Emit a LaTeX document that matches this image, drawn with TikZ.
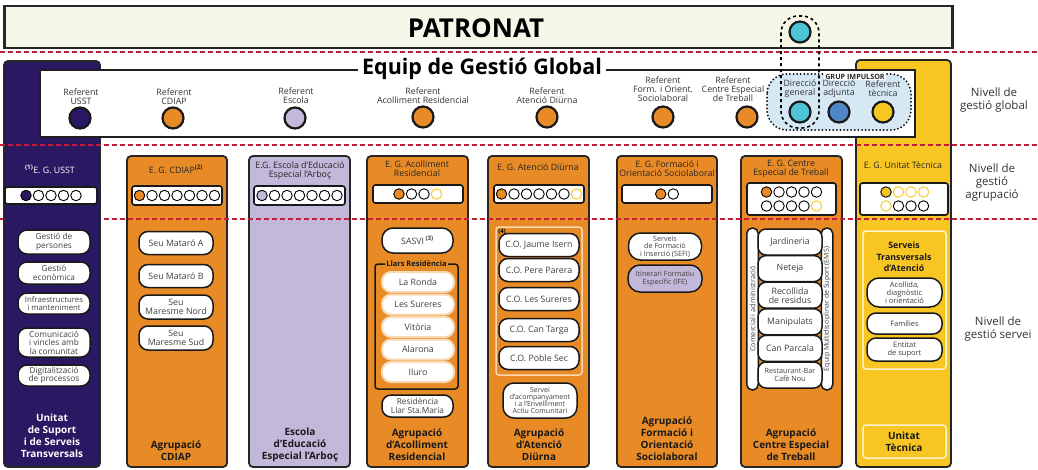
\documentclass[tikz,border=0pt]{standalone}
\usepackage{fontspec}
\setmainfont{Open Sans}
\definecolor{purp}{HTML}{2A1862}
\definecolor{orng}{HTML}{E88A25}
\definecolor{lav}{HTML}{C2B8DA}
\definecolor{ylw}{HTML}{F8C623}
\definecolor{cream}{HTML}{F7F7E9}
\definecolor{cteal}{HTML}{4DC3D6}
\definecolor{cblue}{HTML}{4F86C6}
\definecolor{lblue}{HTML}{D5E8F4}
\definecolor{cred}{HTML}{C41E3A}
\definecolor{pale}{HTML}{FAD9B2}
\definecolor{paley}{HTML}{FFF3CC}
\newcommand\drow[4]{\foreach \fc/\dc [count=\i from 0] in {#4}{\node[dot, fill=\fc, draw=\dc] (#1\i) at ({#2+12.5*\i},#3) {};}}
\begin{document}
\begin{tikzpicture}[x=1pt,y=-1pt,
  lbl/.style={align=center,inner sep=0pt,text=black!80,font=\fontsize{8.8}{9.2}\selectfont},
  refc/.style={circle,draw=black!90,line width=2.2pt,minimum size=21pt,inner sep=0pt},
  colbox/.style={draw=black!85,line width=1.8pt,rounded corners=4pt},
  dbox/.style={draw=black!90,fill=white,line width=1.6pt,rounded corners=2.5pt,inner sep=0pt},
  pill/.style={draw=black!90,fill=white,line width=1.5pt,rounded corners=9pt,align=center,inner sep=0pt,text=black!75,font=\fontsize{8.8}{9}\selectfont},
  dot/.style={circle,line width=0.9pt,minimum size=10.5pt,inner sep=0pt},
  gtitle/.style={align=center,inner sep=0pt,font=\bfseries\fontsize{10}{12}\selectfont,text=black!90},
  etitle/.style={align=center,inner sep=0pt,font=\fontsize{8.8}{8.8}\selectfont,text=black!85},
  redl/.style={draw=cred,line width=1.5pt,dash pattern=on 5pt off 3pt},
  lpill/.style={pill,draw=pale,line width=2pt,minimum width=72pt,minimum height=20pt},
  upill/.style={pill,font=\fontsize{8.3}{8.6}\selectfont,minimum width=72pt},
  nivell/.style={align=center,inner sep=0pt,text=black!80,font=\fontsize{11.5}{13}\selectfont},
]
\useasboundingbox (0,0) rectangle (1038,469);

% PATRONAT
\node[draw=black!85,line width=2.2pt,fill=cream,minimum width=948pt,minimum height=42pt,inner sep=0pt] (patronat) at (478.5,27) {};
\node[font=\bfseries\fontsize{26}{28}\selectfont,inner sep=0pt] (patT) at (476,28) {PATRONAT};
\node[refc,fill=cteal] (pdg) at (800,32) {};

% column fills
\draw[colbox,fill=orng] (127,156) rectangle (227,467);
\draw[colbox,fill=lav] (249,156) rectangle (350,467);
\draw[colbox,fill=orng] (367,156) rectangle (468,467);
\draw[colbox,fill=orng] (488,156) rectangle (589,467);
\draw[colbox,fill=orng] (617,156) rectangle (717,467);
\draw[colbox,fill=orng] (741,156) rectangle (842,467);
\draw[colbox,fill=ylw] (856,60) rectangle (951,467);

% red dashed level lines
\draw[redl] (0,52) -- (1038,52);
\draw[redl] (0,219) -- (1038,219);

% purple column
\draw[colbox,fill=purp] (4,61) rectangle (100,467);
\draw[redl] (0,145) -- (1038,145);
\node[etitle,text=white] (usstT) at (50,169) {\textsuperscript{\bfseries(1)}E. G. USST};
\node[dbox,minimum width=92pt,minimum height=17pt] (usstB) at (51,195.5) {};
\drow{usst}{26}{195.5}{purp/black,white/black,white/black,white/black,white/black}
\node[upill,minimum height=24pt] (gp) at (54,242) {Gestió de\\persones};
\node[upill,minimum height=22pt] (ge) at (54,273) {Gestió\\econòmica};
\node[upill,font=\fontsize{7.8}{8.2}\selectfont,minimum height=21pt] (im) at (54,303.5) {Infraestructures\\i manteniment};
\node[upill,minimum height=29pt] (cv) at (54,342.5) {Comunicació\\i vincles amb\\la comunitat};
\node[upill,minimum height=21pt] (dp) at (54,375.5) {Digitalització\\de processos};
\node[gtitle,text=white] (usstG) at (52,436) {Unitat\\de Suport\\i de Serveis\\Transversals};

% CDIAP
\node[etitle] (cdT) at (176,169) {E. G. CDIAP\textsuperscript{\bfseries(2)}};
\node[dbox,minimum width=90pt,minimum height=19pt] (cdB) at (177,195.5) {};
\drow{cd}{139.5}{195.5}{orng/black,white/black,white/black,white/black,white/black,white/black,white/black}
\node[pill,minimum width=74pt,minimum height=23pt] (sa) at (176,243) {Seu Mataró A};
\node[pill,minimum width=74pt,minimum height=23pt] (sb) at (176,276) {Seu Mataró B};
\node[pill,minimum width=74pt,minimum height=24pt] (sn) at (176,307) {Seu\\Maresme Nord};
\node[pill,minimum width=74pt,minimum height=24pt] (ss) at (176,338) {Seu\\Maresme Sud};
\node[gtitle] (cdG) at (176,451) {Agrupació\\CDIAP};

% Escola
\node[etitle] (esT) at (300,170.5) {E.G. Escola d’Educació\\Especial l’Arboç};
\node[dbox,minimum width=91pt,minimum height=19pt] (esB) at (299.5,195.5) {};
\drow{es}{262}{195.5}{lav/black,white/black,white/black,white/black,white/black,white/black,white/black}
\node[gtitle] (esG) at (300,445) {Escola\\d’Educació\\Especial l’Arboç};

% Acolliment
\node[etitle] (acT) at (417,169) {E. G. Acolliment\\Residencial};
\node[dbox,minimum width=90pt,minimum height=18pt] (acB) at (418,194) {};
\drow{ac}{399}{194}{orng/black,white/black,white/black,white/ylw}
\node[pill,minimum width=71pt,minimum height=25pt,rounded corners=11pt] (sasvi) at (417.5,240.5) {SASVI\,\textsuperscript{\bfseries(3)}};
\draw[draw=black!90,line width=1.5pt,rounded corners=3pt] (375,264) rectangle (458,389);
\node[fill=orng,inner sep=1.5pt,font=\bfseries\fontsize{7.5}{8}\selectfont,text=black!90] (llT) at (416.5,264) {Llars Residència};
\node[lpill] (ll1) at (418,282) {La Ronda};
\node[lpill] (ll2) at (418,304.5) {Les Sureres};
\node[lpill] (ll3) at (418,327) {Vitòria};
\node[lpill] (ll4) at (418,349.5) {Alarona};
\node[lpill] (ll5) at (418,372) {Iluro};
\node[pill,minimum width=71pt,minimum height=22pt,font=\fontsize{8.3}{8.6}\selectfont] (rsm) at (417.5,406) {Residència\\Llar Sta.Maria};
\node[gtitle] (acG) at (417,445) {Agrupació\\d’Acolliment\\Residencial};

% Atencio Diurna
\node[etitle] (adT) at (538,167) {E. G. Atenció Diürna};
\node[dbox,minimum width=90pt,minimum height=18pt] (adB) at (539,194) {};
\drow{ad}{501.5}{194}{orng/black,white/black,white/black,white/black,white/black,white/black,white/ylw}
\draw[draw=pale,line width=1.5pt,rounded corners=3pt] (496,227) rectangle (582,375);
\node[inner sep=0pt,font=\bfseries\fontsize{6}{6}\selectfont] (n4) at (502,231.5) {(4)};
\node[pill,minimum width=80pt,minimum height=23pt] (co1) at (539,245) {C.O. Jaume Isern};
\node[pill,minimum width=80pt,minimum height=23pt] (co2) at (539,270) {C.O. Pere Parera};
\node[pill,minimum width=80pt,minimum height=23pt] (co3) at (539,299) {C.O. Les Sureres};
\node[pill,minimum width=80pt,minimum height=23pt] (co4) at (539,330) {C.O. Can Targa};
\node[pill,minimum width=80pt,minimum height=23pt] (co5) at (539,358) {C.O. Poble Sec};
\node[pill,minimum width=74pt,minimum height=35pt,rounded corners=11pt,font=\fontsize{7}{7.3}\selectfont] (sav) at (540,400.5) {Servei\\d’acompanyament\\i a l’Envelliment\\Actiu Comunitari};
\node[gtitle] (adG) at (539,445) {Agrupació\\d’Atenció\\Diürna};

% Formacio
\node[etitle] (foT) at (667,168.5) {E. G. Formació i\\Orientació Sociolaboral};
\node[dbox,minimum width=90pt,minimum height=18pt] (foB) at (667,194) {};
\drow{fo}{660.75}{194}{orng/black,white/black}
\node[pill,minimum width=73pt,minimum height=27pt,rounded corners=12pt,font=\fontsize{7.2}{7.5}\selectfont] (sefi) at (665,246.5) {Serveis\\de Formació\\i Inserció (SEFI)};
\node[pill,fill=lav,minimum width=74pt,minimum height=27pt,rounded corners=12pt,font=\fontsize{7.2}{7.8}\selectfont] (ife) at (665,278.5) {Itinerari Formatiu\\Específic (IFE)};
\node[gtitle] (foG) at (667,439) {Agrupació\\Formació i\\Orientació\\Sociolaboral};

% CET
\node[etitle] (ceT) at (791,169) {E. G. Centre\\Especial de Treball};
\node[dbox,minimum width=89pt,minimum height=32pt] (ceB) at (791.5,199) {};
\drow{cea}{766.5}{192}{orng/black,white/black,white/black,white/black,white/black}
\drow{ceb}{766.5}{206}{white/black,white/black,white/black,white/black,white/ylw}
\node[pill,rotate=90,minimum width=162pt,minimum height=11.5pt,rounded corners=5.5pt,font=\fontsize{7.3}{7.5}\selectfont] (com) at (752.5,309) {Comercial i administració};
\node[pill,rotate=90,minimum width=162pt,minimum height=11.5pt,rounded corners=5.5pt,font=\fontsize{7}{7.5}\selectfont] (ems) at (827,309) {Equip Multidisciplinar de Suport (EMS)};
\node[pill,minimum width=64pt,minimum height=26pt,rounded corners=8pt] (c1) at (790,242) {Jardineria};
\node[pill,minimum width=64pt,minimum height=26pt,rounded corners=8pt] (c2) at (790,268.6) {Neteja};
\node[pill,minimum width=64pt,minimum height=26pt,rounded corners=8pt] (c3) at (790,295.2) {Recollida\\de residus};
\node[pill,minimum width=64pt,minimum height=26pt,rounded corners=8pt] (c4) at (790,321.8) {Manipulats};
\node[pill,minimum width=64pt,minimum height=26pt,rounded corners=8pt] (c5) at (790,348.4) {Can Parcala};
\node[pill,minimum width=64pt,minimum height=26pt,rounded corners=8pt,font=\fontsize{7.2}{7.6}\selectfont] (c6) at (790,375) {Restaurant-Bar\\Cafè Nou};
\node[gtitle] (ceG) at (791,445) {Agrupació\\Centre Especial\\de Treball};

% Unitat Tecnica
\node[etitle] (utT) at (903,165) {E. G. Unitat Tècnica};
\node[dbox,minimum width=88pt,minimum height=32pt] (utB) at (904,199) {};
\drow{uta}{886}{192}{ylw/black,white/ylw,white/ylw,white/ylw}
\drow{utb}{886}{206}{white/ylw,white/black,white/black,white/black}
\draw[draw=paley,line width=1.5pt,rounded corners=3pt] (863,231) rectangle (946,369);
\node[gtitle,font=\bfseries\fontsize{8.8}{11.5}\selectfont] (stT) at (904,257) {Serveis\\Transversals\\d’Atenció};
\node[pill,minimum width=75pt,minimum height=29pt,rounded corners=12pt,font=\fontsize{7.5}{7.8}\selectfont] (u1) at (904.5,292.5) {Acollida,\\diagnòstic\\i orientació};
\node[pill,minimum width=75pt,minimum height=21pt,font=\fontsize{7.5}{7.8}\selectfont] (u2) at (904.5,323.5) {Famílies};
\node[pill,minimum width=75pt,minimum height=23pt,font=\fontsize{7.5}{7.8}\selectfont] (u3) at (904.5,349.5) {Entitat\\de suport};
\draw[draw=paley,line width=1.5pt,rounded corners=3pt] (863,425) rectangle (946,458);
\node[gtitle] (utG) at (904,441.5) {Unitat\\Tècnica};

% Equip de Gestio Global
\draw[draw=black!88,line width=2.4pt,fill=white] (40,70) rectangle (915,137);
\node[fill=white,inner xsep=4pt,inner ysep=1pt,font=\bfseries\fontsize{21.5}{23}\selectfont] (egg) at (482,69) {Equip de Gestió Global};
\draw[fill=lblue,draw=black,line width=2pt,dash pattern=on 0pt off 3.6pt,line cap=round,rounded corners=20pt] (767,74) rectangle (911,130);
\node[fill=white,inner sep=1pt,font=\bfseries\fontsize{7.2}{7.5}\selectfont,text=black!85] (gi) at (855,76.5) {GRUP IMPULSOR};

\node[lbl] (lUSST) at (81,96.5) {Referent\\USST};
\node[refc,fill=purp] (rUSST) at (80,118) {};
\node[lbl] (lCD) at (174,96.5) {Referent\\CDIAP};
\node[refc,fill=orng] (rCD) at (173,118) {};
\node[lbl] (lES) at (296,95.5) {Referent\\Escola};
\node[refc,fill=lav] (rES) at (295,118) {};
\node[lbl] (lAC) at (423,95.5) {Referent\\Acolliment Residencial};
\node[refc,fill=orng] (rAC) at (423,117) {};
\node[lbl] (lAD) at (547,95.5) {Referent\\Atenció Diürna};
\node[refc,fill=orng] (rAD) at (547,117) {};
\node[lbl] (lFO) at (663,89) {Referent\\Form. i Orient.\\Sociolaboral};
\node[refc,fill=orng] (rFO) at (663,117) {};
\node[lbl] (lCE) at (733,89) {Referent\\Centre Especial\\de Treball};
\node[refc,fill=orng] (rCE) at (747,117) {};
\node[lbl] (lDG) at (800,89) {Direcció\\general};
\node[refc,fill=cteal] (rDG) at (800,112) {};
\node[lbl] (lDA) at (839,89) {Direcció\\adjunta};
\node[refc,fill=cblue] (rDA) at (839,112) {};
\node[lbl] (lRT) at (883,89) {Referent\\tècnica};
\node[refc,fill=ylw] (rRT) at (883,112) {};

% dashed link Direccio general
\draw[dashed,line width=1.6pt,rounded corners=17pt] (781,16) rectangle (819,128);

% level labels
\node[nivell] (nv1) at (994,100) {Nivell de\\gestió global};
\node[nivell] (nv2) at (992,183) {Nivell de\\gestió\\agrupació};
\node[nivell] (nv3) at (998,329) {Nivell de\\gestió servei};
\end{tikzpicture}
\end{document}
